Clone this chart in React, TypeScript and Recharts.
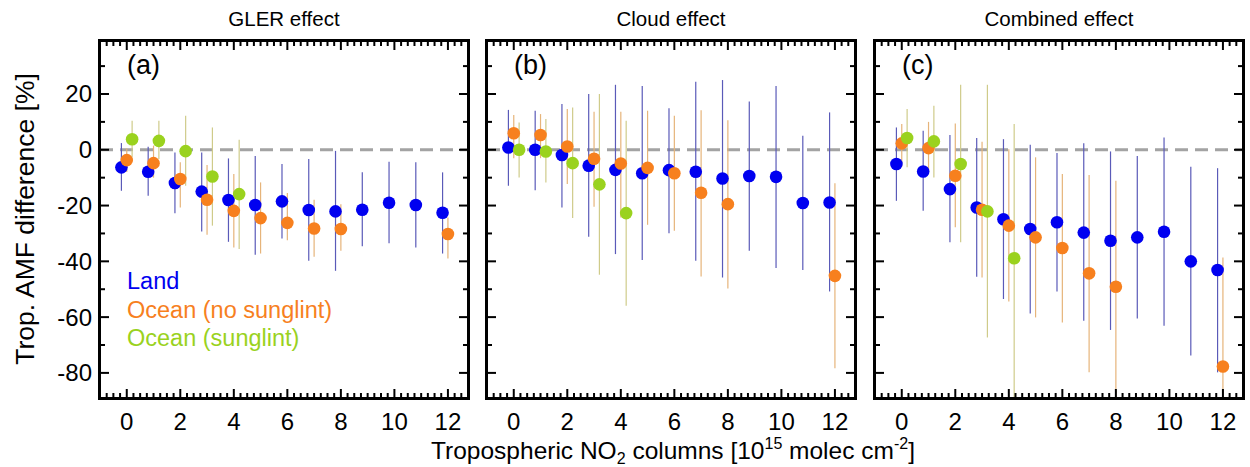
import React from 'react';
import { ScatterChart, Scatter, XAxis, YAxis, ErrorBar, ReferenceLine } from 'recharts';

// NO2 column bins (10^15 molec cm-2)
const landBins = [0, 1, 2, 3, 4, 5, 6, 7, 8, 9, 10, 11, 12];
const oceanBins = [0, 1, 2, 3, 4, 5, 6, 7, 8, 12];
const glintBins = [0, 1, 2, 3, 4];

// (a) GLER effect
const landA = [-6.3, -7.9, -11.9, -15, -18, -19.8, -18.5, -21.6, -22.1, -21.5, -19, -19.8, -22.6];
const landAHi = [2.4, 1.1, -1, -1, -3.1, -2.2, -5.1, -3.3, -0.4, -8.1, -4.3, -4.5, -8.1];
const landALo = [-14.7, -16.5, -22.8, -29.3, -33, -37.6, -31.8, -39.8, -43.4, -34.6, -33.5, -35, -37.2];
const oceanA = [-3.7, -4.8, -10.5, -17.9, -21.9, -24.5, -26.2, -28.2, -28.4, -30.2];
const oceanAHi = [0.5, 1.5, -4.5, -5.5, -8.7, -11.7, -15.5, -17.9, -19.5, -24.3];
const oceanALo = [-8, -10, -20.7, -30.5, -35, -37.2, -32.4, -38.4, -36.2, -39];
const glintA = [3.8, 3.2, -0.5, -9.6, -15.9];
const glintAHi = [10.4, 10.4, 12.2, 8, 3.6];
const glintALo = [-2.7, -3.3, -12.9, -27.2, -35.6];

// (b) Cloud effect
const landB = [0.8, 0, -1.9, -5.7, -7.2, -8.4, -7.3, -7.9, -10.3, -9.4, -9.7, -19.1, -18.9];
const landBHi = [14.3, 14, 16.4, 20, 23.3, 22.9, 14.9, 24.4, 25, 17.3, 22.9, 5, 13.4];
const landBLo = [-12.9, -14.5, -20.7, -31.2, -37.4, -39.5, -29.9, -39.8, -45.8, -36.2, -42.4, -43.1, -50.8];
const oceanB = [5.9, 5.3, 1.2, -3.2, -4.9, -6.5, -8.4, -15.4, -19.5, -45.2];
const oceanBHi = [12.5, 12.8, 14.6, 13.6, 13.6, 14, 12.2, 14.2, 10.6, -12];
const oceanBLo = [-3, -3, -12.3, -20.4, -24.3, -26.9, -29, -45.4, -49.7, -78.3];
const glintB = [0, -0.6, -4.8, -12.4, -22.7];
const glintBHi = [9.8, 11, 15.2, 20, 10.4];
const glintBLo = [-9.9, -11.7, -24.5, -44.8, -55.9];

// (c) Combined effect
const landC = [-5.1, -7.8, -14.1, -20.7, -24.9, -28.4, -26, -29.7, -32.6, -31.4, -29.4, -40, -43.1];
const landCHi = [8, 6.8, 5.3, 4.2, 3.8, 1.8, -1.2, 2.3, -0.6, -2.2, 4.4, -6.1, -6.6];
const landCLo = [-18.3, -21.9, -33.2, -45.5, -53.5, -58.7, -50.8, -61.3, -64.6, -60.5, -63.1, -73.8, -79.8];
const oceanC = [2.3, 0.6, -9.3, -21.5, -27.2, -31.4, -35.2, -44.3, -49.1, -77.7];
const oceanCHi = [9.2, 10, 9.4, 2.9, 0.2, -2.7, -8.7, -9, -11.1, -38.6];
const oceanCLo = [-6, -8, -27.8, -45.8, -54.4, -60.1, -61.9, -79.8, -95, -95];
const glintC = [4.2, 3, -5.1, -22.1, -38.9];
const glintCHi = [14.6, 15.8, 23.3, 23.3, 9.2];
const glintCLo = [-6.3, -9.9, -33.2, -67.3, -95];

const xTicks = Array.from({ length: 56 }, (_, i) => -1 + i * 0.25);
const yTicks = [-80, -70, -60, -50, -40, -30, -20, -10, 0, 10, 20, 30];

const BLUE = '#0000f0';
const ORANGE = '#f7801e';
const GREEN = '#9ad21e';

const Y_MIN = -89;
const Y_MAX = 39;
const PLOT_W = 368;
const PLOT_H = 357;
const TOP = 41;
const X_AXIS_H = 40;
const FONT = '"Liberation Sans", Arial, Helvetica, sans-serif';

const toRows = (bins: number[], vals: number[], hi: number[], lo: number[], shift: number) =>
  bins.map((b, i) => ({
    x: b + shift,
    y: vals[i],
    // bars are cut at the lower frame, like in the original figure
    err: [vals[i] - Math.max(lo[i], Y_MIN), Math.min(hi[i], Y_MAX) - vals[i]],
  }));

const XTick = (props: any) => {
  const { x, y, payload } = props;
  const v = payload.value;
  const major = Math.abs(v % 2) < 1e-6 && v >= 0;
  const len = major ? 9 : 5;
  return (
    <g>
      <line x1={x} x2={x} y1={y} y2={y - len} stroke="#000" strokeWidth={2} />
      <line x1={x} x2={x} y1={y - PLOT_H} y2={y - PLOT_H + len} stroke="#000" strokeWidth={2} />
      {major && (
        <text x={x} y={y + 32} textAnchor="middle" fontSize={24} fontFamily={FONT} fill="#000">{v}</text>
      )}
    </g>
  );
};

const makeYTick = (labels: boolean) => (props: any) => {
  const { x, y, payload } = props;
  const v = payload.value;
  const major = v % 20 === 0;
  const len = major ? 9 : 5;
  return (
    <g>
      <line x1={x} x2={x + len} y1={y} y2={y} stroke="#000" strokeWidth={2} />
      <line x1={x + PLOT_W} x2={x + PLOT_W - len} y1={y} y2={y} stroke="#000" strokeWidth={2} />
      {labels && major && (
        <text x={x - 8} y={y + 8.5} textAnchor="end" fontSize={24} fontFamily={FONT} fill="#000">{v}</text>
      )}
    </g>
  );
};

const dot = (color: string) => (p: any) => <circle cx={p.cx} cy={p.cy} r={6.3} fill={color} />;

interface PanelProps {
  left: number;
  axisW: number;
  labels: boolean;
  land: any[];
  ocean: any[];
  glint: any[];
}

const Panel = ({ left, axisW, labels, land, ocean, glint }: PanelProps) => {
  const width = axisW + PLOT_W + 12;
  return (
    <div style={{ position: 'absolute', left, top: 0 }}>
      <ScatterChart width={width} height={467} margin={{ top: TOP, right: 12, bottom: 467 - TOP - PLOT_H - X_AXIS_H, left: 0 }}>
        <XAxis type="number" dataKey="x" domain={[-1, 12.75]} ticks={xTicks} allowDataOverflow
          height={X_AXIS_H} tickSize={0} tickMargin={0} axisLine={false} tickLine={false} tick={<XTick />} interval={0} />
        <YAxis type="number" dataKey="y" domain={[Y_MIN, Y_MAX]} ticks={yTicks} allowDataOverflow
          width={axisW} tickSize={0} tickMargin={0} axisLine={false} tickLine={false} tick={makeYTick(labels)} interval={0} />
        <ReferenceLine y={0} stroke="#a3a3a3" strokeWidth={3} strokeDasharray="13 7" />
        <Scatter data={land} shape={dot(BLUE)} isAnimationActive={false}>
          <ErrorBar dataKey="err" direction="y" width={0} stroke="#5a5ab8" strokeWidth={1.2} />
        </Scatter>
        <Scatter data={ocean} shape={dot(ORANGE)} isAnimationActive={false}>
          <ErrorBar dataKey="err" direction="y" width={0} stroke="#e6b47a" strokeWidth={1.2} />
        </Scatter>
        <Scatter data={glint} shape={dot(GREEN)} isAnimationActive={false}>
          <ErrorBar dataKey="err" direction="y" width={0} stroke="#cfcb8a" strokeWidth={1.2} />
        </Scatter>
      </ScatterChart>
      <div style={{
        position: 'absolute', left: axisW - 1.75, top: TOP - 1.75, width: PLOT_W + 3.5, height: PLOT_H + 3.5,
        border: '3.5px solid #000', boxSizing: 'border-box', pointerEvents: 'none',
      }} />
    </div>
  );
};

export default function App() {
  return (
    <div style={{ position: 'absolute', left: 0, top: 0, width: 1250, height: 467, overflow: 'hidden', background: '#fff', fontFamily: FONT }}>
      <Panel left={0} axisW={100} labels
        land={toRows(landBins, landA, landAHi, landALo, -0.2)}
        ocean={toRows(oceanBins, oceanA, oceanAHi, oceanALo, 0)}
        glint={toRows(glintBins, glintA, glintAHi, glintALo, 0.2)} />
      <Panel left={477} axisW={10} labels={false}
        land={toRows(landBins, landB, landBHi, landBLo, -0.2)}
        ocean={toRows(oceanBins, oceanB, oceanBHi, oceanBLo, 0)}
        glint={toRows(glintBins, glintB, glintBHi, glintBLo, 0.2)} />
      <Panel left={865} axisW={10} labels={false}
        land={toRows(landBins, landC, landCHi, landCLo, -0.2)}
        ocean={toRows(oceanBins, oceanC, oceanCHi, oceanCLo, 0)}
        glint={toRows(glintBins, glintC, glintCHi, glintCLo, 0.2)} />
      <svg width={1250} height={467} style={{ position: 'absolute', left: 0, top: 0, pointerEvents: 'none' }} fontFamily={FONT}>
        <text x={284} y={26} textAnchor="middle" fontSize={20.5}>GLER effect</text>
        <text x={671} y={26} textAnchor="middle" fontSize={20.5}>Cloud effect</text>
        <text x={1059} y={26} textAnchor="middle" fontSize={20.5}>Combined effect</text>
        <text x={127} y={74} fontSize={27}>(a)</text>
        <text x={514} y={74} fontSize={27}>(b)</text>
        <text x={902} y={74} fontSize={27}>(c)</text>
        <text x={127} y={289} fontSize={23.5} fill={BLUE}>Land</text>
        <text x={127} y={318} fontSize={23.5} fill={ORANGE}>Ocean (no sunglint)</text>
        <text x={127} y={346} fontSize={23.5} fill={GREEN}>Ocean (sunglint)</text>
        <text transform="translate(34,219) rotate(-90)" textAnchor="middle" fontSize={26.5}>Trop. AMF difference [%]</text>
        <text x={673} y={459} textAnchor="middle" fontSize={24.5}>
          Tropospheric NO<tspan fontSize={16} dy={5}>2</tspan>
          <tspan dy={-5}> columns [10</tspan>
          <tspan fontSize={16} dy={-10}>15</tspan>
          <tspan dy={10}> molec cm</tspan>
          <tspan fontSize={16} dy={-10}>-2</tspan>
          <tspan dy={10}>]</tspan>
        </text>
      </svg>
    </div>
  );
}
